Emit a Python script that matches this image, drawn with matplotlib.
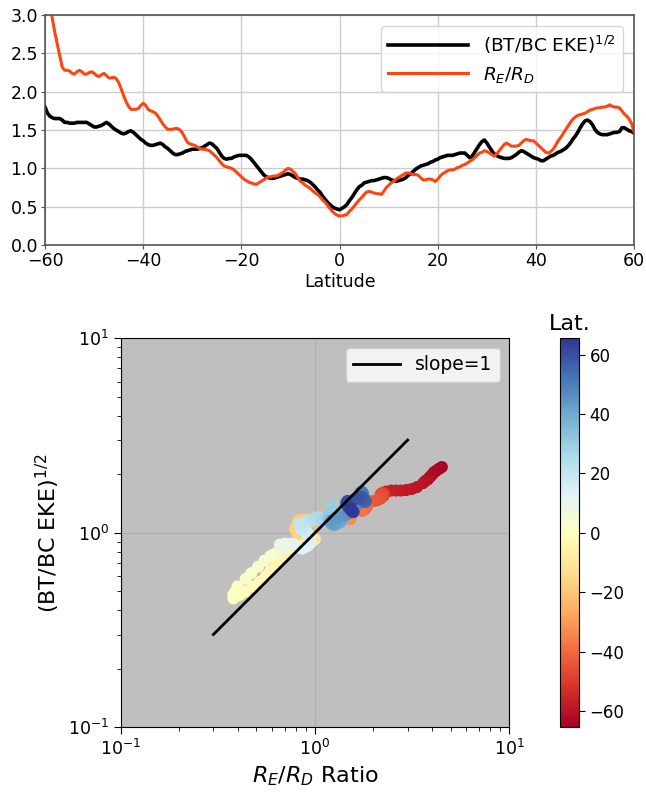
import numpy as np
import matplotlib
matplotlib.use("Agg")
import matplotlib.pyplot as plt
from matplotlib.colors import Normalize

# latitude (deg), half-degree spacing from -65 to 65
lat = np.arange(-65, 65.01, 0.5)

# (BT/BC EKE)^1/2, one row per 5 degrees
eke_ratio = [
    2.18, 2.15, 2.12, 2.08, 2.05, 2.00, 1.96, 1.92, 1.88, 1.85,  # -65
    1.80, 1.72, 1.68, 1.66, 1.65, 1.65, 1.65, 1.63, 1.60, 1.60,  # -60
    1.59, 1.59, 1.59, 1.60, 1.60, 1.60, 1.60, 1.60, 1.58, 1.56,  # -55
    1.54, 1.54, 1.55, 1.56, 1.58, 1.60, 1.58, 1.55, 1.52, 1.50,  # -50
    1.48, 1.46, 1.45, 1.46, 1.48, 1.49, 1.47, 1.44, 1.41, 1.38,  # -45
    1.36, 1.33, 1.31, 1.30, 1.30, 1.31, 1.32, 1.33, 1.31, 1.28,  # -40
    1.26, 1.23, 1.20, 1.18, 1.18, 1.19, 1.20, 1.22, 1.23, 1.24,  # -35
    1.25, 1.25, 1.25, 1.26, 1.27, 1.29, 1.31, 1.33, 1.32, 1.29,  # -30
    1.26, 1.21, 1.16, 1.13, 1.12, 1.13, 1.13, 1.15, 1.16, 1.17,  # -25
    1.17, 1.17, 1.17, 1.15, 1.12, 1.08, 1.04, 1.00, 0.96, 0.92,  # -20
    0.89, 0.88, 0.87, 0.87, 0.88, 0.89, 0.90, 0.91, 0.92, 0.93,  # -15
    0.92, 0.90, 0.88, 0.87, 0.86, 0.86, 0.85, 0.84, 0.82, 0.79,  # -10
    0.76, 0.72, 0.69, 0.64, 0.60, 0.56, 0.53, 0.50, 0.48, 0.47,  # -5
    0.46, 0.48, 0.50, 0.53, 0.58, 0.62, 0.67, 0.72, 0.76, 0.78,  # 0
    0.81, 0.82, 0.83, 0.84, 0.84, 0.85, 0.86, 0.87, 0.88, 0.88,  # 5
    0.87, 0.85, 0.84, 0.83, 0.84, 0.85, 0.86, 0.88, 0.91, 0.93,  # 10
    0.96, 0.99, 1.01, 1.03, 1.04, 1.05, 1.06, 1.08, 1.09, 1.11,  # 15
    1.12, 1.14, 1.15, 1.16, 1.17, 1.17, 1.17, 1.18, 1.19, 1.20,  # 20
    1.20, 1.20, 1.17, 1.14, 1.16, 1.21, 1.26, 1.31, 1.35, 1.37,  # 25
    1.33, 1.28, 1.23, 1.19, 1.17, 1.15, 1.14, 1.13, 1.13, 1.13,  # 30
    1.14, 1.16, 1.18, 1.21, 1.23, 1.22, 1.20, 1.18, 1.16, 1.14,  # 35
    1.13, 1.12, 1.10, 1.10, 1.12, 1.14, 1.16, 1.17, 1.19, 1.21,  # 40
    1.22, 1.24, 1.26, 1.29, 1.33, 1.38, 1.42, 1.47, 1.53, 1.58,  # 45
    1.62, 1.63, 1.61, 1.57, 1.51, 1.47, 1.45, 1.44, 1.44, 1.44,  # 50
    1.45, 1.46, 1.47, 1.47, 1.48, 1.53, 1.53, 1.51, 1.49, 1.48,  # 55
    1.46, 1.43, 1.40, 1.37, 1.34, 1.31, 1.29, 1.28, 1.28, 1.31,  # 60
    1.34,                                                        # 65
]

# R_E / R_D, one row per 5 degrees
re_rd = [
    4.50, 4.40, 4.30, 4.20, 4.10, 4.02, 3.95, 3.87, 3.80, 3.70,  # -65
    3.60, 3.35, 3.15, 2.95, 2.77, 2.62, 2.47, 2.32, 2.28, 2.28,  # -60
    2.27, 2.24, 2.23, 2.26, 2.28, 2.26, 2.23, 2.23, 2.25, 2.26,  # -55
    2.24, 2.21, 2.20, 2.22, 2.24, 2.21, 2.18, 2.18, 2.19, 2.17,  # -50
    2.12, 2.04, 1.95, 1.87, 1.81, 1.77, 1.77, 1.77, 1.78, 1.82,  # -45
    1.85, 1.82, 1.77, 1.75, 1.74, 1.72, 1.68, 1.63, 1.58, 1.54,  # -40
    1.51, 1.51, 1.51, 1.52, 1.52, 1.50, 1.46, 1.40, 1.34, 1.32,  # -35
    1.31, 1.30, 1.28, 1.26, 1.25, 1.25, 1.24, 1.23, 1.20, 1.17,  # -30
    1.14, 1.10, 1.06, 1.03, 1.02, 1.01, 1.00, 0.98, 0.95, 0.92,  # -25
    0.89, 0.86, 0.84, 0.82, 0.81, 0.80, 0.79, 0.81, 0.83, 0.85,  # -20
    0.87, 0.89, 0.89, 0.90, 0.90, 0.91, 0.93, 0.95, 0.98, 1.00,  # -15
    0.99, 0.96, 0.93, 0.88, 0.83, 0.81, 0.78, 0.76, 0.74, 0.71,  # -10
    0.68, 0.66, 0.63, 0.59, 0.56, 0.52, 0.48, 0.44, 0.41, 0.39,  # -5
    0.38, 0.38, 0.39, 0.40, 0.44, 0.47, 0.51, 0.55, 0.59, 0.62,  # 0
    0.66, 0.69, 0.70, 0.69, 0.68, 0.67, 0.67, 0.66, 0.70, 0.75,  # 5
    0.78, 0.81, 0.83, 0.86, 0.88, 0.90, 0.92, 0.94, 0.94, 0.93,  # 10
    0.92, 0.92, 0.91, 0.88, 0.85, 0.85, 0.86, 0.86, 0.85, 0.83,  # 15
    0.86, 0.90, 0.93, 0.95, 0.97, 0.98, 0.98, 0.99, 1.01, 1.02,  # 20
    1.04, 1.05, 1.07, 1.09, 1.11, 1.14, 1.17, 1.20, 1.21, 1.23,  # 25
    1.22, 1.20, 1.18, 1.16, 1.19, 1.23, 1.27, 1.31, 1.33, 1.31,  # 30
    1.29, 1.29, 1.29, 1.30, 1.33, 1.36, 1.38, 1.37, 1.36, 1.36,  # 35
    1.33, 1.30, 1.27, 1.24, 1.21, 1.20, 1.22, 1.25, 1.30, 1.36,  # 40
    1.40, 1.45, 1.50, 1.55, 1.60, 1.64, 1.67, 1.69, 1.70, 1.71,  # 45
    1.72, 1.74, 1.76, 1.77, 1.78, 1.79, 1.79, 1.80, 1.80, 1.81,  # 50
    1.83, 1.81, 1.80, 1.80, 1.79, 1.75, 1.71, 1.68, 1.64, 1.58,  # 55
    1.47, 1.45, 1.45, 1.47, 1.50, 1.53, 1.55, 1.57, 1.58, 1.55,  # 60
    1.52,                                                        # 65
]

slope_x = [0.3, 3.0]

fig = plt.figure(figsize=(6.46, 7.93), dpi=100)

# --- latitude profiles ---
ax1 = fig.add_axes([0.0697, 0.691, 0.912, 0.290])
ax1.plot(lat, eke_ratio, color="black", lw=2.6, label="(BT/BC EKE)$^{1/2}$")
ax1.plot(lat, re_rd, color="#ff4413", lw=2.2, label="$R_E/R_D$")
ax1.set_xlim(-60, 60)
ax1.set_ylim(0, 3)
ax1.set_xticks(np.arange(-60, 61, 20))
ax1.set_yticks(np.arange(0, 3.01, 0.5))
ax1.grid(True, color="#cccccc", lw=1)
ax1.tick_params(length=3, color="#555555", labelsize=12.5)
ax1.tick_params(axis="x", pad=2)
ax1.tick_params(axis="y", pad=2)
for sp in ax1.spines.values():
    sp.set_color("#555555")
    sp.set_linewidth(1.2)
ax1.set_xlabel("Latitude", fontsize=12.5, labelpad=2)
ax1.legend(loc="upper right", fontsize=13.3, handlelength=4.3,
           borderaxespad=0.6, fancybox=True)

# --- scatter in log-log space ---
ax2 = fig.add_axes([0.1868, 0.0828, 0.6015, 0.4905])
ax2.set_facecolor("#bfbfbf")
norm = Normalize(vmin=-65.5, vmax=65.5)
sc = ax2.scatter(re_rd, eke_ratio, c=lat, cmap="RdYlBu", norm=norm,
                 s=75, edgecolors="none", zorder=3)
ax2.plot(slope_x, slope_x, color="black", lw=2, label="slope=1", zorder=4)
ax2.set_xscale("log")
ax2.set_yscale("log")
ax2.set_xlim(0.1, 10)
ax2.set_ylim(0.1, 10)
ax2.grid(True, which="major", color="#b0b0b0", lw=0.9, zorder=0)
ax2.set_axisbelow(True)
ax2.tick_params(which="major", labelsize=12.5, length=5)
ax2.tick_params(which="minor", length=3)
ax2.set_xlabel("$R_E/R_D$ Ratio", fontsize=16)
ax2.set_ylabel("(BT/BC EKE)$^{1/2}$", fontsize=16)
ax2.legend(loc="upper right", fontsize=13.5, handlelength=2.5)

cax = fig.add_axes([0.8669, 0.0828, 0.0294, 0.4905])
cb = fig.colorbar(sc, cax=cax)
cb.set_ticks(np.arange(-60, 61, 20))
cb.ax.tick_params(labelsize=12, length=4)
cb.ax.set_title("Lat.", fontsize=16, pad=6)

fig.savefig("out.png", dpi=100)
